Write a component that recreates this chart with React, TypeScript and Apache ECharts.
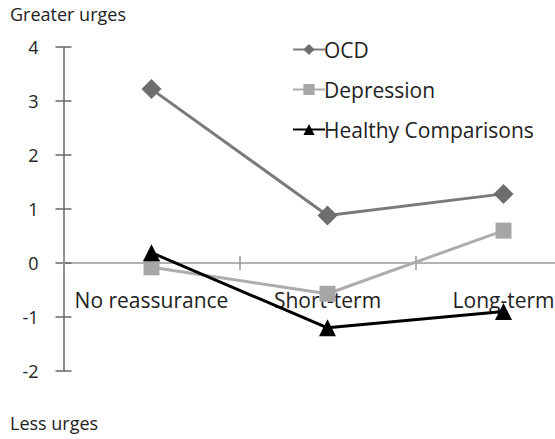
import React, { useEffect, useRef } from "react";
import * as echarts from "echarts";

const categories = ["No reassurance", "Short-term", "Long-term"];
const ocd = [3.22, 0.88, 1.28];
const depression = [-0.08, -0.57, 0.6];
const healthy = [0.19, -1.2, -0.9];
const yMin = -2;
const yMax = 4;
const yInterval = 1;

const FONT = "Open Sans";

export default function App() {
  const ref = useRef<HTMLDivElement>(null);
  useEffect(() => {
    if (!ref.current) return;
    const chart = echarts.init(ref.current, null, { renderer: "svg" });
    const small = { fontFamily: FONT, fontSize: 18, color: "#222" };
    const big = { fontFamily: FONT, fontSize: 21, color: "#222" };
    chart.setOption({
      animation: false,
      backgroundColor: "#fff",
      grid: { left: 63.5, width: 528, top: 47, height: 324, containLabel: false, outerBoundsMode: "none" },
      graphic: [
        { type: "text", left: 10, top: 5, style: { text: "Greater urges", font: `18px "${FONT}"`, fill: "#222" } },
        { type: "text", left: 10, top: 414, style: { text: "Less urges", font: `18px "${FONT}"`, fill: "#222" } },
      ],
      legend: {
        orient: "vertical",
        left: 287,
        top: 34,
        itemGap: 19,
        itemWidth: 32,
        itemHeight: 14,
        textStyle: { ...big, padding: [0, 0, 0, -6] },
        data: ["OCD", "Depression", "Healthy Comparisons"],
      },
      xAxis: [
        {
          type: "category",
          data: categories,
          boundaryGap: true,
          axisLine: { onZero: true, onZeroAxisIndex: 0, lineStyle: { color: "#999", width: 1.5 } },
          axisTick: { show: true, inside: false, length: 7, lineStyle: { color: "#999", width: 1.5 } },
          axisLabel: { ...big, margin: -82, interval: 0 },
          splitLine: { show: false },
        },
        {
          type: "category",
          data: categories,
          position: "bottom",
          boundaryGap: true,
          axisLine: { show: false, onZero: true, onZeroAxisIndex: 0 },
          axisTick: { show: true, inside: true, length: 7, lineStyle: { color: "#999", width: 1.5 } },
          axisLabel: { show: false },
          splitLine: { show: false },
        },
      ],
      yAxis: [
        {
          type: "value",
          min: yMin,
          max: yMax,
          interval: yInterval,
          position: "left",
          axisLine: { show: true, lineStyle: { color: "#666", width: 1.5 } },
          axisTick: { show: true, inside: false, length: 8, lineStyle: { color: "#666", width: 1.5 } },
          axisLabel: { ...small, margin: 25 },
          splitLine: { show: false },
        },
        {
          type: "value",
          min: yMin,
          max: yMax,
          interval: yInterval,
          position: "left",
          axisLine: { show: false },
          axisTick: { show: true, inside: true, length: 8, lineStyle: { color: "#666", width: 1.5 } },
          axisLabel: { show: false },
          splitLine: { show: false },
        },
      ],
      series: [
        {
          name: "OCD",
          type: "line",
          data: ocd,
          xAxisIndex: 0,
          yAxisIndex: 0,
          symbol: "diamond",
          symbolSize: 20,
          lineStyle: { color: "#7a7a7a", width: 3 },
          itemStyle: { color: "#6e6e6e" },
        },
        {
          name: "Depression",
          type: "line",
          data: depression,
          xAxisIndex: 0,
          yAxisIndex: 0,
          symbol: "rect",
          symbolSize: 16,
          lineStyle: { color: "#adadad", width: 3 },
          itemStyle: { color: "#a6a6a6" },
        },
        {
          name: "Healthy Comparisons",
          type: "line",
          data: healthy,
          xAxisIndex: 0,
          yAxisIndex: 0,
          symbol: "triangle",
          symbolSize: 17,
          lineStyle: { color: "#000", width: 3 },
          itemStyle: { color: "#000" },
        },
      ],
    });
    return () => chart.dispose();
  }, []);
  return <div ref={ref} style={{ width: 555, height: 439, position: "absolute", left: 0, top: 0 }} />;
}
